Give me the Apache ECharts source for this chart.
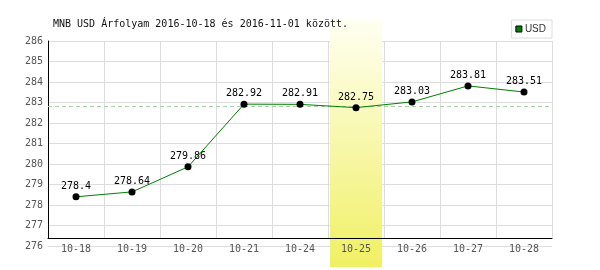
<!DOCTYPE html>
<html>
<head>
<meta charset="utf-8">
<script src="https://cdn.jsdelivr.net/npm/echarts@6/dist/echarts.min.js"></script>
<style>html,body{margin:0;padding:0;background:#fff}#c{width:600px;height:270px}</style>
</head>
<body>
<div id="c"></div>
<script>
const titleText = 'MNB USD Árfolyam 2016-10-18 és 2016-11-01 között.';
const seriesName = 'USD';
const categories = ['10-18','10-19','10-20','10-21','10-24','10-25','10-26','10-27','10-28'];
const usdValues = [278.4, 278.64, 279.86, 282.92, 282.91, 282.75, 283.03, 283.81, 283.51];
const averageValue = 282.8;
const highlightCategory = '10-25';
const yMin = 276, yMax = 286, yStep = 1;

const mono = 'DejaVu Sans Mono';
const chart = echarts.init(document.getElementById('c'), null, {renderer: 'canvas'});
const bandData = categories.map(c => c === highlightCategory ? 1 : '-');
const emptyData = categories.map(() => '-');

chart.setOption({
  animation: false,
  backgroundColor: '#fff',
  title: {
    text: titleText, left: 53, top: 19, padding: 0,
    textStyle: {fontFamily: mono, fontSize: 10, fontWeight: 'normal', color: '#111'}
  },
  legend: {
    right: 48, top: 20, padding: [4, 6, 4, 4],
    borderColor: '#ddd', borderWidth: 1, backgroundColor: '#fff',
    itemWidth: 6, itemHeight: 6, itemGap: 4, icon: 'rect',
    textStyle: {fontFamily: 'Liberation Sans', fontSize: 10, color: '#333', padding: [0,0,0,-2]},
    data: [{name: seriesName, itemStyle: {color: '#008000', borderColor: '#000', borderWidth: 1}}]
  },
  grid: [
    {left: 48, right: 48, top: 41, height: 205},
    {left: 48, right: 48, top: 41, height: 197},
    {left: 48, right: 48, top: 20, height: 247}
  ],
  xAxis: [
    {type: 'category', gridIndex: 0, data: categories, show: false},
    {type: 'category', gridIndex: 1, data: categories, z: 0,
     axisLine: {show: false}, axisTick: {show: false}, axisLabel: {show: false},
     splitLine: {show: true, lineStyle: {color: '#ddd', width: 1}}},
    {type: 'category', gridIndex: 1, data: categories, z: 3, position: 'bottom',
     axisLine: {show: true, lineStyle: {color: '#000', width: 1}}, axisTick: {show: false},
     axisLabel: {margin: 6, fontFamily: mono, fontSize: 10, color: '#555'},
     splitLine: {show: false}},
    {type: 'category', gridIndex: 2, data: categories, show: false}
  ],
  yAxis: [
    {type: 'value', gridIndex: 0, min: yMin, max: yMax, interval: yStep, z: 0,
     axisLine: {show: false}, axisTick: {show: false},
     axisLabel: {margin: 5, fontFamily: mono, fontSize: 10, color: '#555'},
     splitLine: {show: true, lineStyle: {color: '#ddd', width: 1}}},
    {type: 'value', gridIndex: 1, min: 0, max: 1, z: 3,
     axisLine: {show: true, lineStyle: {color: '#000', width: 1}}, axisTick: {show: false},
     axisLabel: {show: false}, splitLine: {show: false}},
    {type: 'value', gridIndex: 2, min: 0, max: 1, show: false}
  ],
  series: [
    {type: 'line', name: 'avg', xAxisIndex: 0, yAxisIndex: 0, data: emptyData, z: 1,
     symbol: 'none', silent: true,
     markLine: {symbol: 'none', silent: true, label: {show: false},
       lineStyle: {color: '#a8d0a8', type: [4, 3], width: 1},
       data: [{yAxis: averageValue}]}},
    {type: 'bar', name: 'band', xAxisIndex: 3, yAxisIndex: 2, data: bandData, z: 2,
     barWidth: '93%', silent: true,
     itemStyle: {color: new echarts.graphic.LinearGradient(0, 0, 0, 1, [
       {offset: 0, color: '#fffff2'}, {offset: 1, color: '#f0f064'}])}},
    {type: 'line', name: seriesName, xAxisIndex: 0, yAxisIndex: 0, data: usdValues, z: 5,
     symbol: 'circle', symbolSize: 7,
     lineStyle: {color: '#008000', width: 1},
     itemStyle: {color: '#000'},
     label: {show: true, position: 'top', distance: 2, fontFamily: mono, fontSize: 10, color: '#000'}}
  ]
});
</script>
</body>
</html>
